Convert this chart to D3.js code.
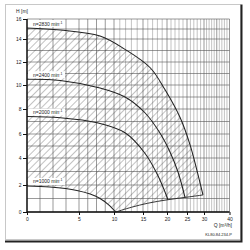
<!DOCTYPE html>
<html>
<head>
<meta charset="utf-8">
<script src="https://cdn.jsdelivr.net/npm/d3@7"></script>
<style>
  body { margin: 0; background: #fff; }
  text { font-family: "Liberation Sans", Arial, sans-serif; fill: #222; }
</style>
</head>
<body>
<svg id="chart"></svg>
<script>
// tick labels
const qTicks = [0, 5, 10, 15, 20, 25, 30, 40];
const hTicks = [0, 2, 4, 6, 8, 10, 12, 14, 16];

// pump curves, Q [m3/h] / H [m]
const q2830 = [0, 3.2, 8, 11.9, 16.5, 19.6, 23.3, 25.9, 27.9, 29.7];
const h2830 = [15.1, 14.9, 14.3, 13.1, 11.5, 9.6, 7.3, 5.1, 3.1, 1.26];
const q2400 = [0, 3.2, 8, 11.9, 15.4, 18.5, 20.75, 22.75, 24.5];
const h2400 = [10.5, 10.4, 9.75, 9.0, 7.7, 6.1, 4.5, 2.96, 1.08];
const q2000 = [0, 3.2, 7.6, 11.9, 15.4, 18.1, 20.25];
const h2000 = [7.4, 7.3, 6.9, 6.1, 4.4, 2.7, 0.91];
const q1000 = [0, 2.2, 4.8, 6.6, 8, 9.2, 10.3];
const h1000 = [1.93, 1.85, 1.6, 1.33, 1.0, 0.55, 0];
// lower limit of the working range
const qLimit = [10.3, 13, 16, 20, 25, 29.7];
const hLimit = [0, 0.35, 0.65, 0.9, 1.1, 1.26];

const speedLabels = ["n=2830 min", "n=2400 min", "n=2000 min", "n=1000 min"];

class PumpChart
{
    constructor(svg, width = 250, height = 250) {
        this.svg = d3.select(svg);
        this.width = width;
        this.height = height;
    }

    initialize() {
        this.svg.attr("width", this.width).attr("height", this.height);

        // axis is not linear, scales go through the labelled ticks
        this.xScale = d3.scaleLinear()
            .domain(qTicks)
            .range([27, 79, 114, 143, 167, 187, 204, 229.5]);
        this.yScale = d3.scaleLinear()
            .domain(hTicks)
            .range([212, 185, 158, 134, 109, 85, 62, 39, 19]);

        const defs = this.svg.append("defs");
        defs.append("pattern")
            .attr("id", "hatch")
            .attr("patternUnits", "userSpaceOnUse")
            .attr("width", 5).attr("height", 5)
            .attr("patternTransform", "rotate(45)")
            .append("line")
            .attr("x1", 0).attr("y1", 0).attr("x2", 0).attr("y2", 5)
            .attr("stroke", "#333").attr("stroke-width", 0.6);

        this.frame = this.svg.append("g");
        this.grid = this.svg.append("g");
        this.area = this.svg.append("g");
        this.curves = this.svg.append("g");
        this.labels = this.svg.append("g");
        this.xAxis = this.svg.append("g");
        this.yAxis = this.svg.append("g");
    }

    update(series) {
        const x = this.xScale, y = this.yScale;

        // frame with shadow
        this.frame.append("rect")
            .attr("x", 5.5).attr("y", 4.5)
            .attr("width", 235).attr("height", 235)
            .attr("fill", "#fff").attr("stroke", "#c8c8c8");
        this.frame.append("path")
            .attr("d", "M241.5,4.5V241.5H5")
            .attr("fill", "none").attr("stroke", "#222").attr("stroke-width", 2);

        // grid
        const qGrid = [...d3.range(0, 10, 1.25), ...d3.range(10, 41, 1)];
        const hGrid = d3.range(0, 17, 1);
        this.grid.selectAll(".v")
            .data(qGrid)
            .join("line")
            .attr("x1", d => x(d)).attr("x2", d => x(d))
            .attr("y1", y(16)).attr("y2", y(0))
            .attr("stroke", d => (d % 5 === 0 || d < 10) ? "#555" : "#9a9a9a")
            .attr("stroke-width", 0.6);
        this.grid.selectAll(".h")
            .data(hGrid)
            .join("line")
            .attr("x1", x(0)).attr("x2", x(40))
            .attr("y1", d => y(d)).attr("y2", d => y(d))
            .attr("stroke", "#555")
            .attr("stroke-width", 0.6);

        const line = d3.line().x(d => x(d[0])).y(d => y(d[1])).curve(d3.curveCatmullRom);

        // hatched working range
        const top = d3.zip(q2830, h2830);
        const bottom = d3.zip(qLimit, hLimit).reverse();
        const left = d3.zip(q1000, h1000).reverse();
        this.area.append("path")
            .attr("d", line(top) + "L" + line(bottom).slice(1) + "L" + line(left).slice(1) + "Z")
            .attr("fill", "url(#hatch)");
        this.curves.append("path")
            .attr("d", line(d3.zip(qLimit, hLimit)))
            .attr("fill", "none").attr("stroke", "#222").attr("stroke-width", 0.9);

        this.curves.selectAll(".curve")
            .data(series)
            .join("path")
            .attr("class", "curve")
            .attr("d", d => line(d3.zip(d.q, d.h)))
            .attr("fill", "none")
            .attr("stroke", "#222")
            .attr("stroke-width", 1.05);

        // speed labels
        const lab = this.labels.selectAll(".lab")
            .data(series)
            .join("g")
            .attr("class", "lab")
            .attr("transform", d => `translate(${x(0) + 1}, ${y(d.h[0]) - 4.5})`);
        lab.append("rect")
            .attr("x", 0).attr("y", -3.5)
            .attr("width", 37).attr("height", 7)
            .attr("fill", "#fff");
        const t = lab.append("text")
            .attr("x", 5).attr("y", 2)
            .style("font-size", "5px")
            .text(d => d.label);
        t.append("tspan").attr("dy", -2).style("font-size", "3.5px").text("-1");

        // axes
        this.xAxis
            .attr("transform", `translate(0, ${y(0)})`)
            .call(d3.axisBottom(x).tickValues(qTicks).tickSize(3).tickPadding(2));
        this.yAxis
            .attr("transform", `translate(${x(0)}, 0)`)
            .call(d3.axisLeft(y).tickValues(hTicks).tickSize(4).tickPadding(1.5));
        [this.xAxis, this.yAxis].forEach(a => {
            a.select(".domain").attr("stroke", "#111").attr("stroke-width", 1.4);
            a.selectAll(".tick line").attr("stroke", "#111").attr("stroke-width", 1);
            a.selectAll("text").style("font-size", "5px").attr("fill", "#222");
        });
        this.xAxis.select(".domain").attr("d", `M${x(0)},0H${x(40)}`);
        this.yAxis.select(".domain").attr("d", `M0,${y(0)}V${y(16)}`);

        this.svg.append("text")
            .attr("x", 16).attr("y", 13)
            .style("font-size", "5px")
            .text("H [m]");
        const qt = this.svg.append("text")
            .attr("x", 232).attr("y", 227)
            .attr("text-anchor", "end")
            .style("font-size", "5px")
            .text("Q [m");
        qt.append("tspan").attr("dy", -1.5).style("font-size", "3.5px").text("3");
        qt.append("tspan").attr("dy", 1.5).text("/h]");
        this.svg.append("text")
            .attr("x", 232).attr("y", 236)
            .attr("text-anchor", "end")
            .style("font-size", "4px")
            .text("KL80.84.234-P");
    }
}

const series = [
    { label: speedLabels[0], q: q2830, h: h2830 },
    { label: speedLabels[1], q: q2400, h: h2400 },
    { label: speedLabels[2], q: q2000, h: h2000 },
    { label: speedLabels[3], q: q1000, h: h1000 }
];

const chart = new PumpChart("#chart");
chart.initialize();
chart.update(series);
</script>
</body>
</html>
